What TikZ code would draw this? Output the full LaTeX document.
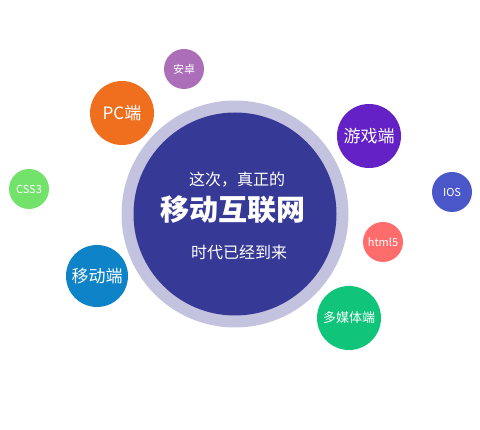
\documentclass[tikz,border=0pt]{standalone}
\usepackage{fontspec}
\setmainfont{Noto Sans CJK SC}
\usepackage{tikz}
\definecolor{RingLav}{RGB}{195,195,223}
\definecolor{CoreNavy}{RGB}{55,57,150}
\definecolor{PcOrange}{RGB}{239,111,31}
\definecolor{AndPurple}{RGB}{172,109,185}
\definecolor{CssGreen}{RGB}{114,226,107}
\definecolor{GameViolet}{RGB}{99,33,198}
\definecolor{IosBlue}{RGB}{74,87,201}
\definecolor{HtmlRed}{RGB}{254,108,108}
\definecolor{MediaGreen}{RGB}{16,197,122}
\definecolor{MobBlue}{RGB}{15,131,199}

\begin{document}
\begin{tikzpicture}[x=1pt, y=-1pt,
          bub/.style={circle, inner sep=0pt, text=white, align=center},
          big/.style={bub, minimum size=64pt, font=\fontsize{17}{17}\selectfont},
          small/.style={bub, minimum size=40pt, font=\fontsize{11}{11}\selectfont},
          txt/.style={text=white, inner sep=0pt}
        ]
        \useasboundingbox (0,0) rectangle (480,430);

        % centre disc
        \node[bub, fill=RingLav, minimum size=227pt] (ring) at (235,214) {};
        \node[bub, fill=CoreNavy, minimum size=203pt] (core) at (235,214) {};
        \node[txt, font=\fontsize{16}{16}\selectfont] (top) at (237,180) {这次，真正的};
        \node[txt, font=\fontsize{29}{29}\selectfont\bfseries] (head) at (233,210) {移动互联网};
        \node[txt, font=\fontsize{16}{16}\selectfont] (bot) at (239,252) {时代已经到来};

        % bubbles round it
        \node[big, fill=PcOrange]   (pc)    at (122,113) {PC端};
        \node[small, fill=AndPurple] (andr) at (184,69)  {安卓};
        \node[small, fill=CssGreen]  (css)  at (29,189)  {CSS3};
        \node[big, fill=GameViolet] (game)  at (369,136) {游戏端};
        \node[small, fill=IosBlue]   (ios)  at (452,192) {IOS};
        \node[small, fill=HtmlRed]   (html) at (383,242) {html5};
        \node[big, fill=MediaGreen, font=\fontsize{13}{13}\selectfont] (media) at (349,318) {多媒体端};
        \node[big, fill=MobBlue, minimum size=62pt] (mob) at (97,276) {移动端};
      \end{tikzpicture}
\end{document}
